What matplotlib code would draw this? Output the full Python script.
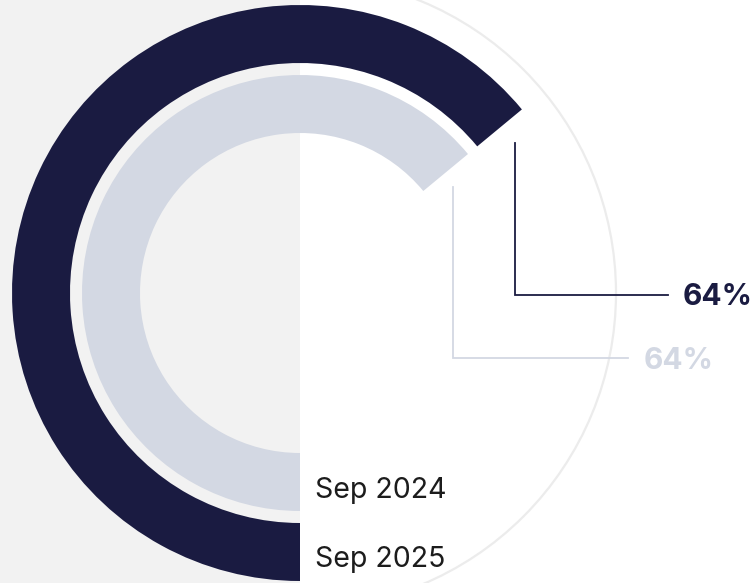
import matplotlib.pyplot as plt
from matplotlib.patches import Wedge, Circle, Rectangle

# data
periods = ['Sep 2025', 'Sep 2024']
values = [64, 64]
colors = ['#1a1b41', '#d3d8e3']

W, H = 756, 583
cx, cy = 300, H - 293
ring_outer = [288, 218]
ring_width = 58

fig = plt.figure(figsize=(W / 100, H / 100), dpi=100)
ax = fig.add_axes([0, 0, 1, 1])
ax.set_xlim(0, W)
ax.set_ylim(0, H)
ax.set_aspect('equal')
ax.axis('off')

# background: light circle outline, grey left half on top of it
ax.add_patch(Circle((cx, cy), 316, fill=False, ec='#ececec', lw=1.6, zorder=0))
ax.add_patch(Rectangle((0, 0), cx, H, fc='#f2f2f2', ec='none', zorder=1))

for r, v, c in zip(ring_outer, values, colors):
    start = 270 - v / 100 * 360
    ax.add_patch(Wedge((cx, cy), r, start, 270, width=ring_width, fc=c, ec='none', zorder=2))

# leader lines + value labels
leaders = [
    # (x vertical, y top, y elbow, x end, label x, label baseline)
    (515, 143, 295, 668, 683, 305),
    (453, 187, 358, 628, 644, 369),
]
for (lx, ytop, yel, xend, tx, ty), v, c in zip(leaders, values, colors):
    ax.plot([lx, lx, xend], [H - ytop, H - yel, H - yel], color=c, lw=1.3,
            solid_joinstyle='miter', zorder=3)
    ax.text(tx, H - ty, f'{v}%', color=c, fontsize=21.5, fontweight='bold',
            family='Inter', va='baseline', ha='left', zorder=4)

# period labels at ring start
label_base = [567, 498]
for yb, p in zip(label_base, periods):
    ax.text(315, H - yb, p, color='#1c1c1c', fontsize=20.5,
            family='Inter', va='baseline', ha='left', zorder=4)

fig.savefig('out.png', dpi=100)
